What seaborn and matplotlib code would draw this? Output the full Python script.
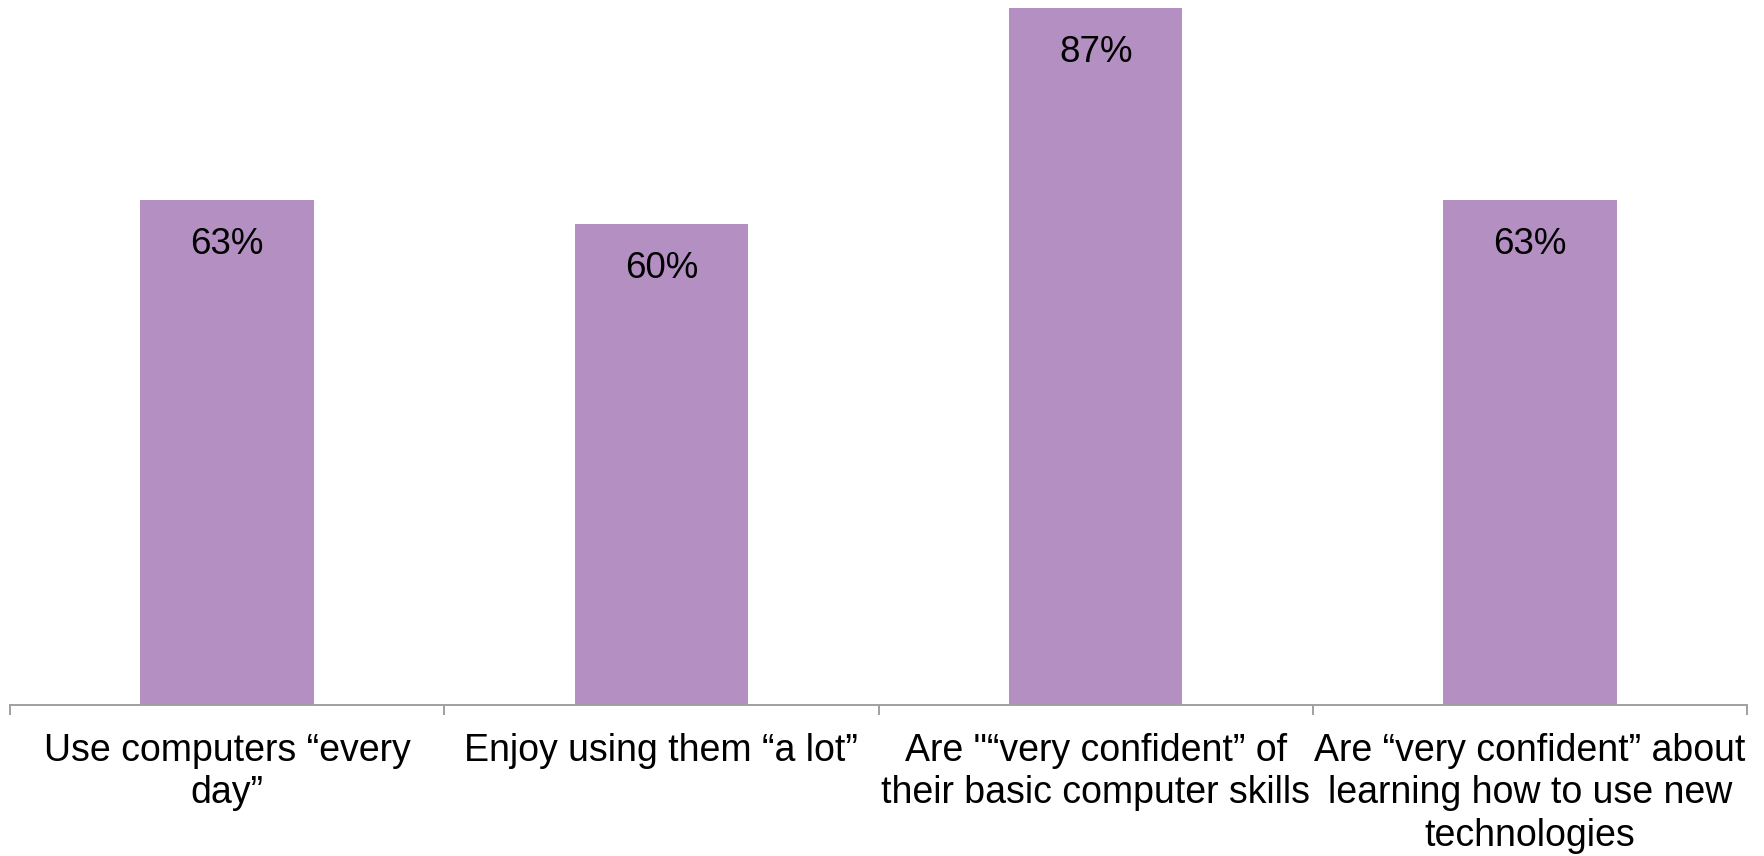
import matplotlib
matplotlib.use("Agg")
import matplotlib.pyplot as plt
import seaborn as sns
import pandas as pd

categories = [
    "Use computers \u201cevery\nday\u201d",
    "Enjoy using them \u201ca lot\u201d",
    "Are \"\u201cvery confident\u201d of\ntheir basic computer skills",
    "Are \u201cvery confident\u201d about\nlearning how to use new\ntechnologies",
]
values = [63, 60, 87, 63]
value_labels = ["63%", "60%", "87%", "63%"]

sns.set_theme(style="white")
plt.rcParams["font.family"] = ["Liberation Sans", "DejaVu Sans"]

df = pd.DataFrame({"category": categories, "value": values})

fig = plt.figure(figsize=(17.64, 8.56), dpi=100)
ax = fig.add_axes([10 / 1764, 151 / 856, 1737 / 1764, 705 / 856])

sns.barplot(data=df, x="category", y="value", color="#b48fc2", saturation=1,
            width=0.4, linewidth=0, ax=ax)

ax.set_xlim(-0.5, len(categories) - 0.5)
ax.set_ylim(0, 88)

for i, (v, lab) in enumerate(zip(values, value_labels)):
    ax.annotate(lab, (i, v), xytext=(0, -32), textcoords="offset points",
                ha="center", va="center", fontsize=26.5, color="black")

# Category labels centred, tick marks only at the category boundaries
ax.set_xticks(range(len(categories)))
ax.set_xticklabels(categories, fontsize=27, color="black", linespacing=1.24)
ax.tick_params(axis="x", which="major", length=0, pad=20)
ax.set_xticks([i - 0.5 for i in range(len(categories) + 1)], minor=True)
ax.tick_params(axis="x", which="minor", bottom=True, length=7.5, width=1.4,
               color="#a0a0a0", direction="out")

ax.set_yticks([])
ax.set_xlabel("")
ax.set_ylabel("")
for side in ["top", "right", "left"]:
    ax.spines[side].set_visible(False)
ax.spines["bottom"].set_color("#a0a0a0")
ax.spines["bottom"].set_linewidth(1.4)
ax.spines["bottom"].set_zorder(5)

fig.savefig("out.png", dpi=100)
